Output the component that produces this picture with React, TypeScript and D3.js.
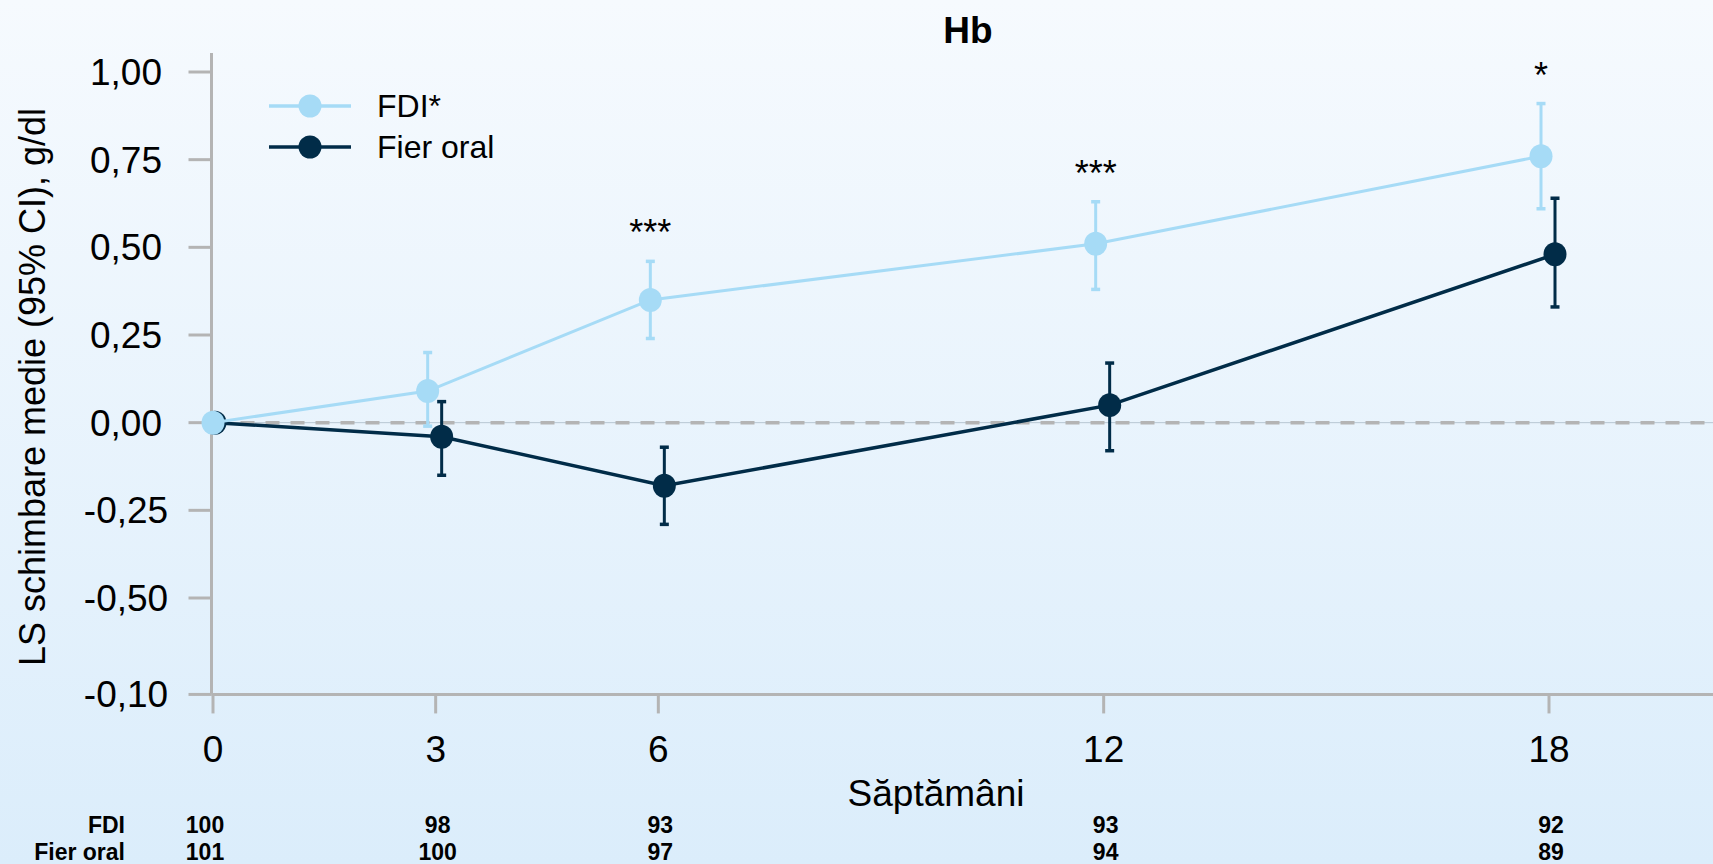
import React, { useEffect } from "react";
import * as d3 from "d3";

const weeks = [0, 3, 6, 12, 18];
const fdiMean = [0, 0.09, 0.35, 0.51, 0.76];
const fdiLow = [0, -0.01, 0.24, 0.38, 0.61];
const fdiHigh = [0, 0.2, 0.46, 0.63, 0.91];
const oralMean = [0, -0.04, -0.18, 0.05, 0.48];
const oralLow = [0, -0.15, -0.29, -0.08, 0.33];
const oralHigh = [0, 0.06, -0.07, 0.17, 0.64];
const significance = ["", "", "***", "***", "*"];
const fdiN = [100, 98, 93, 93, 92];
const oralN = [101, 100, 97, 94, 89];
const yTickValues = [-0.775, -0.5, -0.25, 0, 0.25, 0.5, 0.75, 1.0];
const yTickLabels = ["-0,10", "-0,50", "-0,25", "0,00", "0,25", "0,50", "0,75", "1,00"];
const seriesNames = ["FDI*", "Fier oral"];
const tableNames = ["FDI", "Fier oral"];

const W = 1713;
const H = 864;
const LIGHT = "#a6dbf6";
const DARK = "#012c48";
const AXIS = "#b4b4b4";
const FONT = "'Liberation Sans', Arial, sans-serif";

export default function App() {
  useEffect(() => {
    document.body.style.margin = "0";
  }, []);

  const x = d3.scaleLinear().domain([0, 18]).range([213, 1549]);
  const y = d3.scaleLinear().domain([-0.5, 1.0]).range([598, 72]);
  const axisX = x(0) - 1.5;
  const axisBottom = y(yTickValues[0]);

  const dodge = (i: number, s: number) => {
    if (weeks[i] === 0) return s === 0 ? 0 : 2;
    return s === 0 ? -8 : 6;
  };

  const series = [
    { mean: fdiMean, lo: fdiLow, hi: fdiHigh, color: LIGHT, width: 3 },
    { mean: oralMean, lo: oralLow, hi: oralHigh, color: DARK, width: 3.5 },
  ];

  const makeLine = (s: number) =>
    d3
      .line<number>()
      .x((_, i) => x(weeks[i]) + dodge(i, s))
      .y((v) => y(v));

  const drawOrder = [1, 0];

  return (
    <svg width={W} height={H} style={{ display: "block" }} fontFamily={FONT}>
      <defs>
        <linearGradient id="bg" x1="0" y1="0" x2="0" y2="1">
          <stop offset="0%" stopColor="#f6fafe" />
          <stop offset="100%" stopColor="#dbedfb" />
        </linearGradient>
      </defs>
      <rect x={0} y={0} width={W} height={H} fill="url(#bg)" />

      {/* title */}
      <text x={968} y={43} textAnchor="middle" fontWeight="bold" fontSize={37} fill="#000">
        Hb
      </text>

      {/* zero reference line */}
      <line x1={axisX} x2={W} y1={y(0)} y2={y(0)} stroke="#b7c6d2" strokeWidth={1} />
      <line
        x1={axisX + 4}
        x2={W}
        y1={y(0)}
        y2={y(0)}
        stroke={AXIS}
        strokeWidth={3.5}
        strokeDasharray="14 11"
      />

      {/* y axis */}
      <line x1={axisX} x2={axisX} y1={53} y2={axisBottom} stroke={AXIS} strokeWidth={3} />
      {yTickValues.map((v, i) => (
        <g key={"yt" + i}>
          <line x1={axisX - 23} x2={axisX} y1={y(v)} y2={y(v)} stroke={AXIS} strokeWidth={3} />
          <text
            x={126}
            y={y(v)}
            dy="0.35em"
            textAnchor="middle"
            fontSize={37}
            fill="#000"
          >
            {yTickLabels[i]}
          </text>
        </g>
      ))}
      <text
        transform={`translate(45, 387) rotate(-90)`}
        textAnchor="middle"
        fontSize={36}
        fill="#000"
      >
        LS schimbare medie (95% CI), g/dl
      </text>

      {/* x axis */}
      <line x1={axisX} x2={W} y1={axisBottom} y2={axisBottom} stroke={AXIS} strokeWidth={3} />
      {weeks.map((w) => (
        <g key={"xt" + w}>
          <line x1={x(w)} x2={x(w)} y1={axisBottom} y2={axisBottom + 19} stroke={AXIS} strokeWidth={3} />
          <text x={x(w)} y={762} textAnchor="middle" fontSize={37} fill="#000">
            {w}
          </text>
        </g>
      ))}
      <text x={936} y={806} textAnchor="middle" fontSize={37} fill="#000">
        Săptămâni
      </text>

      {/* series */}
      {drawOrder.map((s) => {
        const ser = series[s];
        return (
          <g key={"s" + s}>
            <path
              d={makeLine(s)(ser.mean) || ""}
              fill="none"
              stroke={ser.color}
              strokeWidth={ser.width}
            />
            {weeks.map((w, i) => {
              if (ser.hi[i] === ser.lo[i]) return null;
              const cx = x(w) + dodge(i, s);
              return (
                <g key={"e" + i} stroke={ser.color}>
                  <line x1={cx} x2={cx} y1={y(ser.hi[i])} y2={y(ser.lo[i])} strokeWidth={3} />
                  <line x1={cx - 4.5} x2={cx + 4.5} y1={y(ser.hi[i])} y2={y(ser.hi[i])} strokeWidth={3.5} />
                  <line x1={cx - 4.5} x2={cx + 4.5} y1={y(ser.lo[i])} y2={y(ser.lo[i])} strokeWidth={3.5} />
                </g>
              );
            })}
            {weeks.map((w, i) => (
              <ellipse
                key={"p" + i}
                cx={x(w) + dodge(i, s)}
                cy={y(ser.mean[i])}
                rx={11.5}
                ry={12}
                fill={ser.color}
              />
            ))}
          </g>
        );
      })}

      {/* significance markers */}
      {weeks.map((w, i) =>
        significance[i] ? (
          <text
            key={"sig" + i}
            x={x(w) + dodge(i, 0)}
            y={y(fdiHigh[i]) - 16}
            textAnchor="middle"
            fontSize={36}
            fill="#000"
          >
            {significance[i]}
          </text>
        ) : null
      )}

      {/* legend */}
      {[0, 1].map((s) => (
        <g key={"lg" + s}>
          <line x1={269} x2={351} y1={106 + s * 41} y2={106 + s * 41} stroke={series[s].color} strokeWidth={3.5} />
          <circle cx={310} cy={106 + s * 41} r={11.5} fill={series[s].color} />
          <text x={377} y={106 + s * 41 + 11} fontSize={32} fill="#000">
            {seriesNames[s]}
          </text>
        </g>
      ))}

      {/* numbers at risk table */}
      {[fdiN, oralN].map((row, r) => (
        <g key={"row" + r} fontWeight="bold" fontSize={23} fill="#000">
          <text x={125} y={833 + r * 27} textAnchor="end">
            {tableNames[r]}
          </text>
          {row.map((n, i) => (
            <text key={"n" + i} x={x(weeks[i]) + (i === 0 ? -8 : 2)} y={833 + r * 27} textAnchor="middle">
              {n}
            </text>
          ))}
        </g>
      ))}
    </svg>
  );
}
